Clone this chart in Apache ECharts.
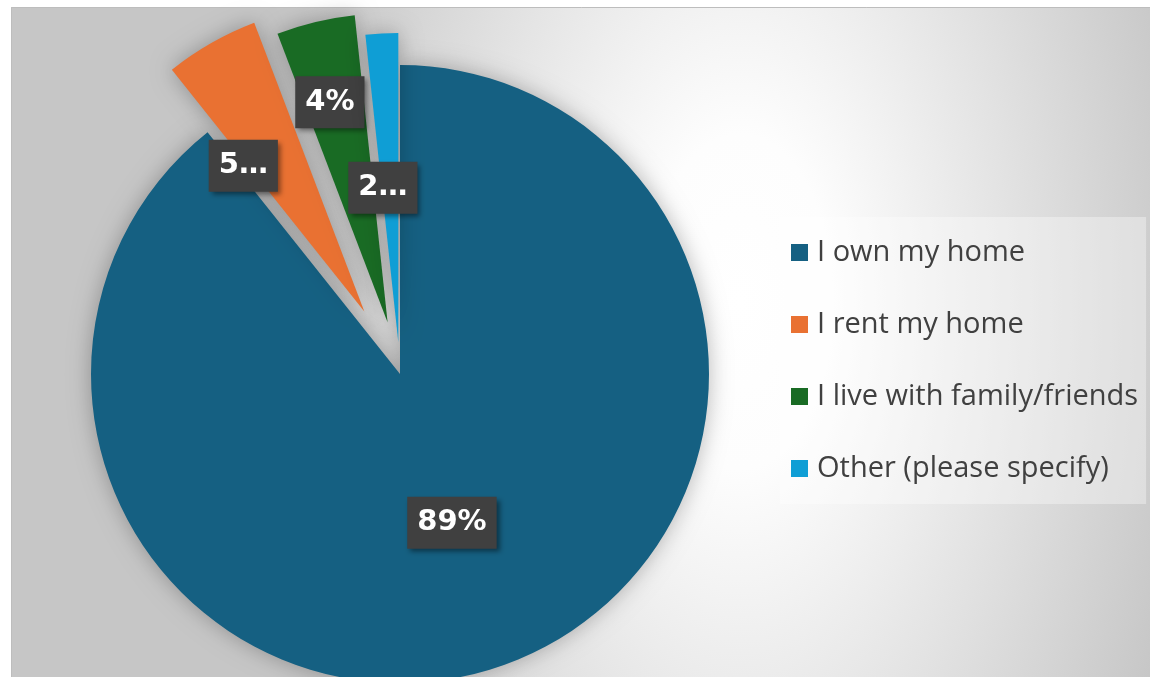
<!DOCTYPE html>
<html>
<head>
<meta charset="utf-8">
<script src="https://cdn.jsdelivr.net/npm/echarts/dist/echarts.min.js"></script>
<style>
html,body{margin:0;padding:0;background:#ffffff;}
#chart{width:1150px;height:677px;}
</style>
</head>
<body>
<div id="chart"></div>
<script>
// ---- data ----
const categories = ['I own my home', 'I rent my home', 'I live with family/friends', 'Other (please specify)'];
const values = [89.3, 4.9, 4.1, 1.7];
const labelTexts = ['89%', '5…', '4%', '2…'];

// ---- styles ----
const colors = ['#156082', '#E97132', '#196B24', '#0F9ED5'];
const explodeOffsets = [0, 72, 53, 32];
const labelShifts = [[0, 0], [-43, -9], [-21, -67], [-7, 3]];

const chart = echarts.init(document.getElementById('chart'), null, {renderer: 'canvas'});

const labelStyle = {
  show: true,
  position: 'inside',
  color: '#ffffff',
  fontFamily: 'DejaVu Sans',
  fontWeight: 'bold',
  fontSize: 29,
  lineHeight: 34,
  backgroundColor: '#404040',
  padding: [9, 10],
  shadowColor: 'rgba(0,0,0,0.45)',
  shadowBlur: 5,
  shadowOffsetX: 3,
  shadowOffsetY: 3
};

const series = categories.map(function (_, k) {
  return {
    type: 'pie',
    name: 'slice' + k,
    center: [400, 374],
    radius: [0, 309],
    startAngle: 90,
    clockwise: true,
    selectedMode: 'single',
    selectedOffset: explodeOffsets[k],
    avoidLabelOverlap: false,
    animation: false,
    silent: true,
    z: 2 + k,
    labelLine: {show: false},
    labelLayout: {dx: labelShifts[k][0], dy: labelShifts[k][1]},
    emphasis: {disabled: true},
    data: categories.map(function (name, i) {
      const visible = i === k;
      return {
        name: name,
        value: values[i],
        selected: visible && explodeOffsets[k] > 0,
        itemStyle: visible
          ? {color: colors[i], borderWidth: 0, shadowBlur: 22, shadowColor: 'rgba(0,0,0,0.28)'}
          : {color: 'rgba(0,0,0,0)', borderWidth: 0},
        select: {itemStyle: visible ? {color: colors[i], borderWidth: 0} : {color: 'rgba(0,0,0,0)', borderWidth: 0}},
        label: visible ? Object.assign({formatter: labelTexts[i]}, labelStyle) : {show: false}
      };
    })
  };
});

const s = 1.8;
chart.setOption({
  animation: false,
  graphic: [
    {
      type: 'rect', silent: true, z: -10,
      x: 11, y: 7, scaleY: s,
      shape: {x: 0, y: 0, width: 1139, height: 670 / s},
      style: {
        fill: new echarts.graphic.RadialGradient(0.64, 0.44, 1.25, [
          {offset: 0, color: '#ffffff'},
          {offset: 0.2, color: '#fdfdfd'},
          {offset: 1, color: '#c6c6c6'}
        ])
      }
    },
    {
      type: 'rect', silent: true, z: -9,
      shape: {x: 11.5, y: 7.5, width: 1150, height: 690},
      style: {fill: 'none', stroke: '#bdbdbd', lineWidth: 1}
    }
  ],
  legend: {
    orient: 'vertical',
    left: 780,
    top: 217,
    backgroundColor: 'rgba(255,255,255,0.35)',
    padding: [20, 8, 20, 11],
    itemWidth: 17,
    itemHeight: 17,
    itemGap: 41,
    icon: 'rect',
    selectedMode: false,
    textStyle: {fontFamily: 'Open Sans', fontSize: 29, color: '#404040', lineHeight: 31, padding: [0, 0, 0, 4]},
    data: categories.map(function (n, i) { return {name: n, itemStyle: {color: colors[i]}}; })
  },
  series: series
});
</script>
</body>
</html>
